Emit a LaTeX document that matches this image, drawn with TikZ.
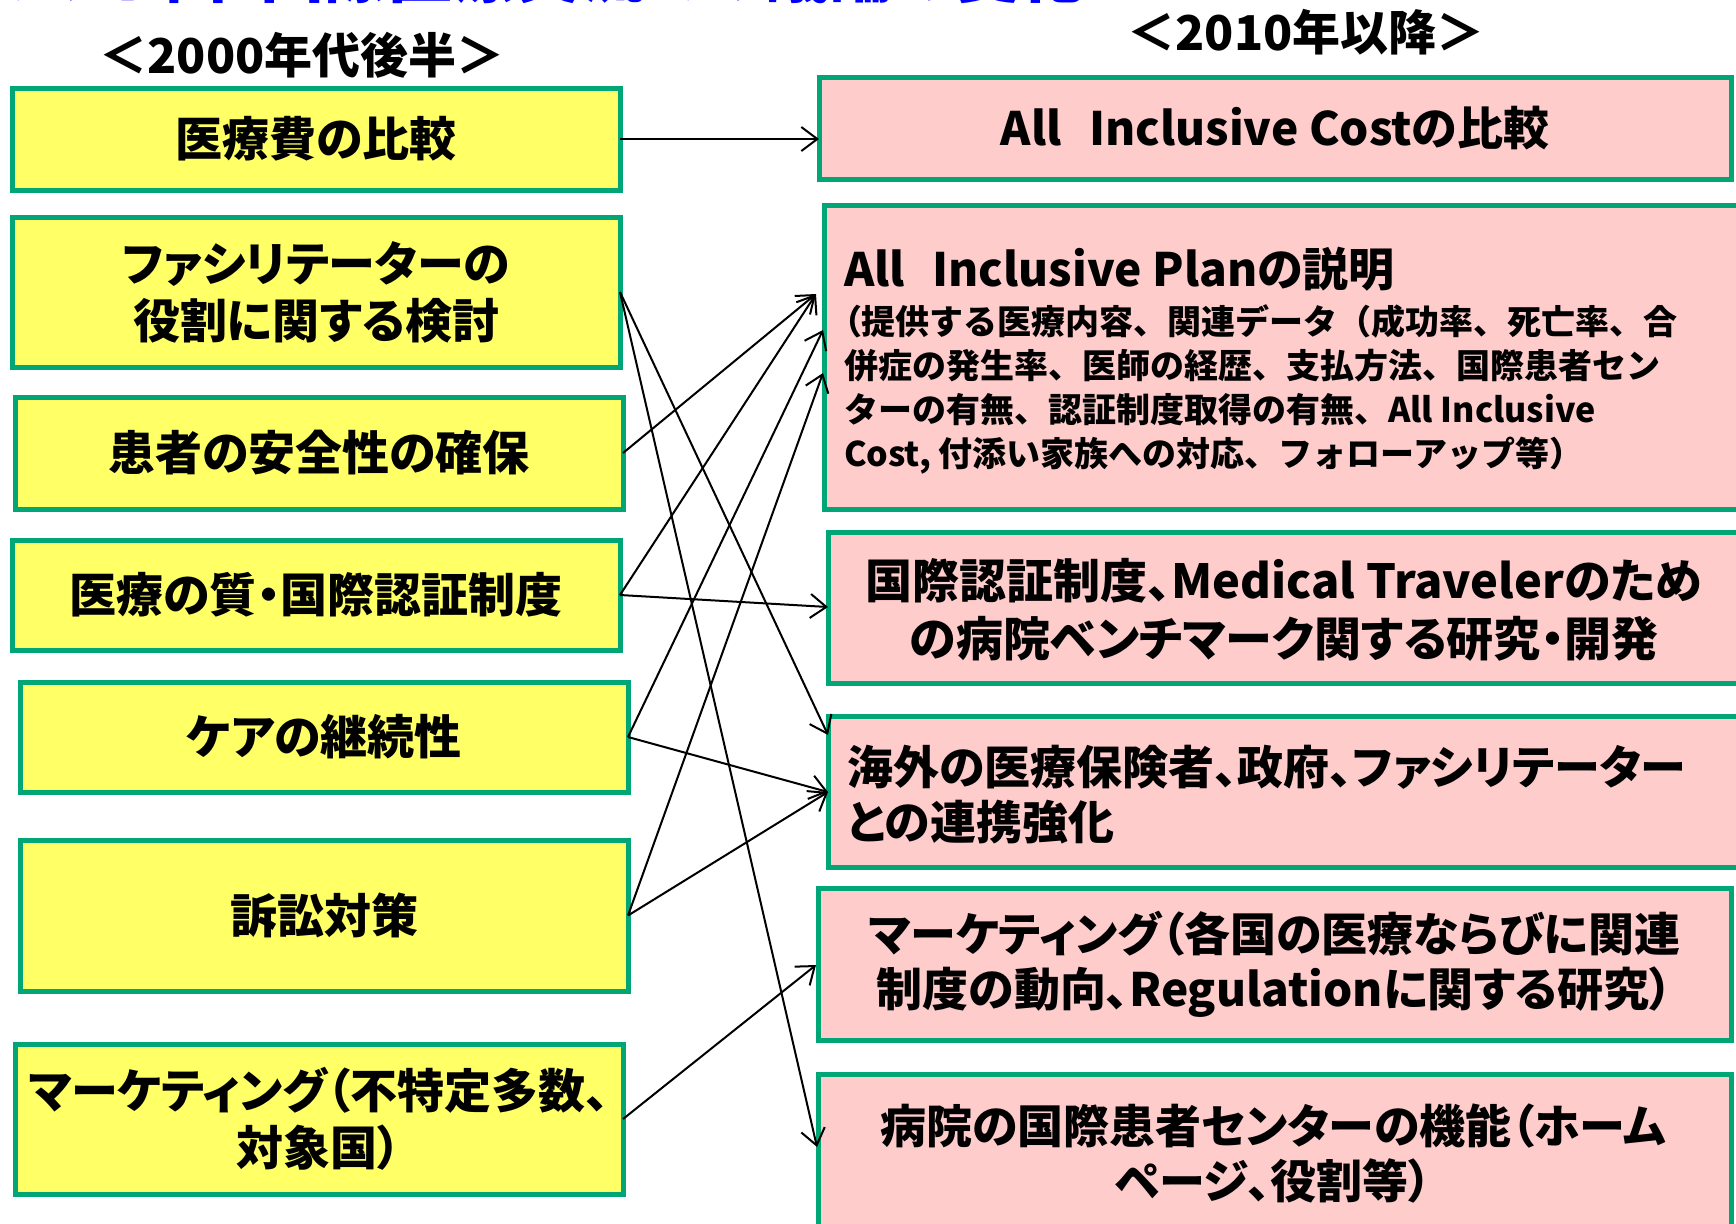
\documentclass[tikz,border=0pt]{standalone}
\usepackage{fontspec}
\setmainfont{Noto Sans CJK JP}[RawFeature=+palt]
\newfontfamily\jpfull{Noto Sans CJK JP}
\usetikzlibrary{arrows.meta,calc}
\definecolor{bgreen}{RGB}{0,166,118}
\definecolor{lyel}{RGB}{255,255,102}
\definecolor{rpink}{RGB}{255,204,204}
\definecolor{tblue}{RGB}{0,0,255}
\tikzset{
  lbox/.style={draw=bgreen, line width=2.5pt, fill=lyel, inner sep=0pt, outer sep=0pt,
    minimum width=304pt, align=center, font=\fontsize{23.5}{28.5}\selectfont\bfseries},
  rbox/.style={draw=bgreen, line width=2.5pt, fill=rpink, inner sep=0pt, outer sep=0pt,
    align=center, font=\fontsize{23}{27.5}\selectfont\bfseries},
  rtext/.style={inner sep=0pt, outer sep=0pt, align=left, anchor=west,
    font=\fontsize{23}{27.5}\selectfont\bfseries},
  hdr/.style={inner sep=0pt, font=\jpfull\fontsize{24}{28}\selectfont\bfseries},
  conn/.style={line width=1pt, -{Straight Barb[length=8pt,width=12pt]}},
}
\begin{document}
\begin{tikzpicture}[x=0.5pt,y=-0.5pt]
\useasboundingbox (0,0) rectangle (1736,1223);
\clip (0,0) rectangle (1736,1223);
% title (cut off at top, as in the reference)
\node[anchor=base west, inner sep=0pt, text=tblue, font=\fontsize{32}{36}\selectfont\bfseries] (title) at (-4,-3) {ソフト面・国際医療交流での議論の変化};
% headers
\node[hdr] (hL) at (302,55) {＜2000年代後半＞};
\node[hdr] (hR) at (1306,32) {＜2010年以降＞};
% left boxes
\node[lbox, minimum height=51pt] (L1) at (316,139) {医療費の比較};
\node[lbox, minimum height=75pt] (L2) at (316,292) {ファシリテーターの\\役割に関する検討};
\node[lbox, minimum height=56pt] (L3) at (319,453) {患者の安全性の確保};
\node[lbox, minimum height=55pt] (L4) at (316,595) {医療の質・国際認証制度};
\node[lbox, minimum height=55pt] (L5) at (324,737) {ケアの継続性};
\node[lbox, minimum height=75.5pt] (L6) at (324,915.5) {訴訟対策};
\node[lbox, minimum height=75pt] (L7) at (319,1119) {マーケティング（不特定多数、\\対象国）};
% right boxes
\node[rbox, minimum width=456pt, minimum height=51pt] (R1) at (1275,128) {All\hspace{0.6em}Inclusive Costの比較};
\node[rbox, minimum width=460.5pt, minimum height=152pt] (R2) at (1284.5,357) {};
\node[rtext] (R2t) at (844,269) {All\hspace{0.6em}Inclusive Planの説明};
\node[rtext, font=\jpfull\fontsize{17}{22}\selectfont\bfseries] (R2b) at (844,389)
  {{\addfontfeature{RawFeature=+palt}（}提供する医療内容、関連データ（成功率、死亡率、合\\併症の発生率、医師の経歴、支払方法、国際患者セン\\ターの有無、認証制度取得の有無、All Inclusive\\Cost, 付添い家族への対応、フォローアップ等）};
\node[rbox, minimum width=458.5pt, minimum height=75.5pt] (R3) at (1286.5,607.5) {};
\node[inner sep=0pt, align=center, font=\fontsize{23.5}{29}\selectfont\bfseries] (R3t) at (1284,610) {国際認証制度、Medical Travelerのため\\の病院ベンチマーク関する研究・開発};
\node[rbox, minimum width=458.5pt, minimum height=75.5pt] (R4) at (1286.5,791.5) {};
\node[rtext] (R4t) at (847,794.5) {海外の医療保険者、政府、ファシリテーター\\との連携強化};
\node[rbox, minimum width=456.5pt, minimum height=76pt] (R5) at (1274.5,964) {マーケティング（各国の医療ならびに関連\\制度の動向、Regulationに関する研究）};
\node[rbox, minimum width=456.5pt, minimum height=83pt] (R6) at (1274.5,1157) {};
\node[inner sep=0pt, align=center, font=\fontsize{23}{27.5}\selectfont\bfseries] (R6t) at (1273,1153.5) {病院の国際患者センターの機能（ホーム\\ページ、役割等）};
% arrow end points
\coordinate (e1) at (R1.west |- L1.east);
\coordinate (e2) at ($(R2.north west)+(-8,89)$);
\coordinate (e4) at ($(R2.north west)+(-1,125)$);
\coordinate (e5) at ($(R2.north west)+(-1,168)$);
\coordinate (e6) at ($(R4.north west)+(0,19)$);
\coordinate (e7) at ($(R6.north west)+(-1,73)$);
\coordinate (e8) at ($(R3.north west)+(0,75)$);
\coordinate (e9) at ($(R4.north west)+(0,76)$);
\coordinate (e11) at ($(R5.north west)+(-2,77)$);
% connectors
\draw[conn] (L1.east) -- (e1);
\draw[conn] (L2.east) -- (e6);
\draw[conn] (L2.east) -- (e7);
\draw[conn] (L3.east) -- (e2);
\draw[conn] (L4.east) -- (e2);
\draw[conn] (L4.east) -- (e8);
\draw[conn] (L5.east) -- (e4);
\draw[conn] (L5.east) -- (e9);
\draw[conn] (L6.east) -- (e5);
\draw[conn] (L6.east) -- (e9);
\draw[conn] (L7.east) -- (e11);
\end{tikzpicture}
\end{document}
